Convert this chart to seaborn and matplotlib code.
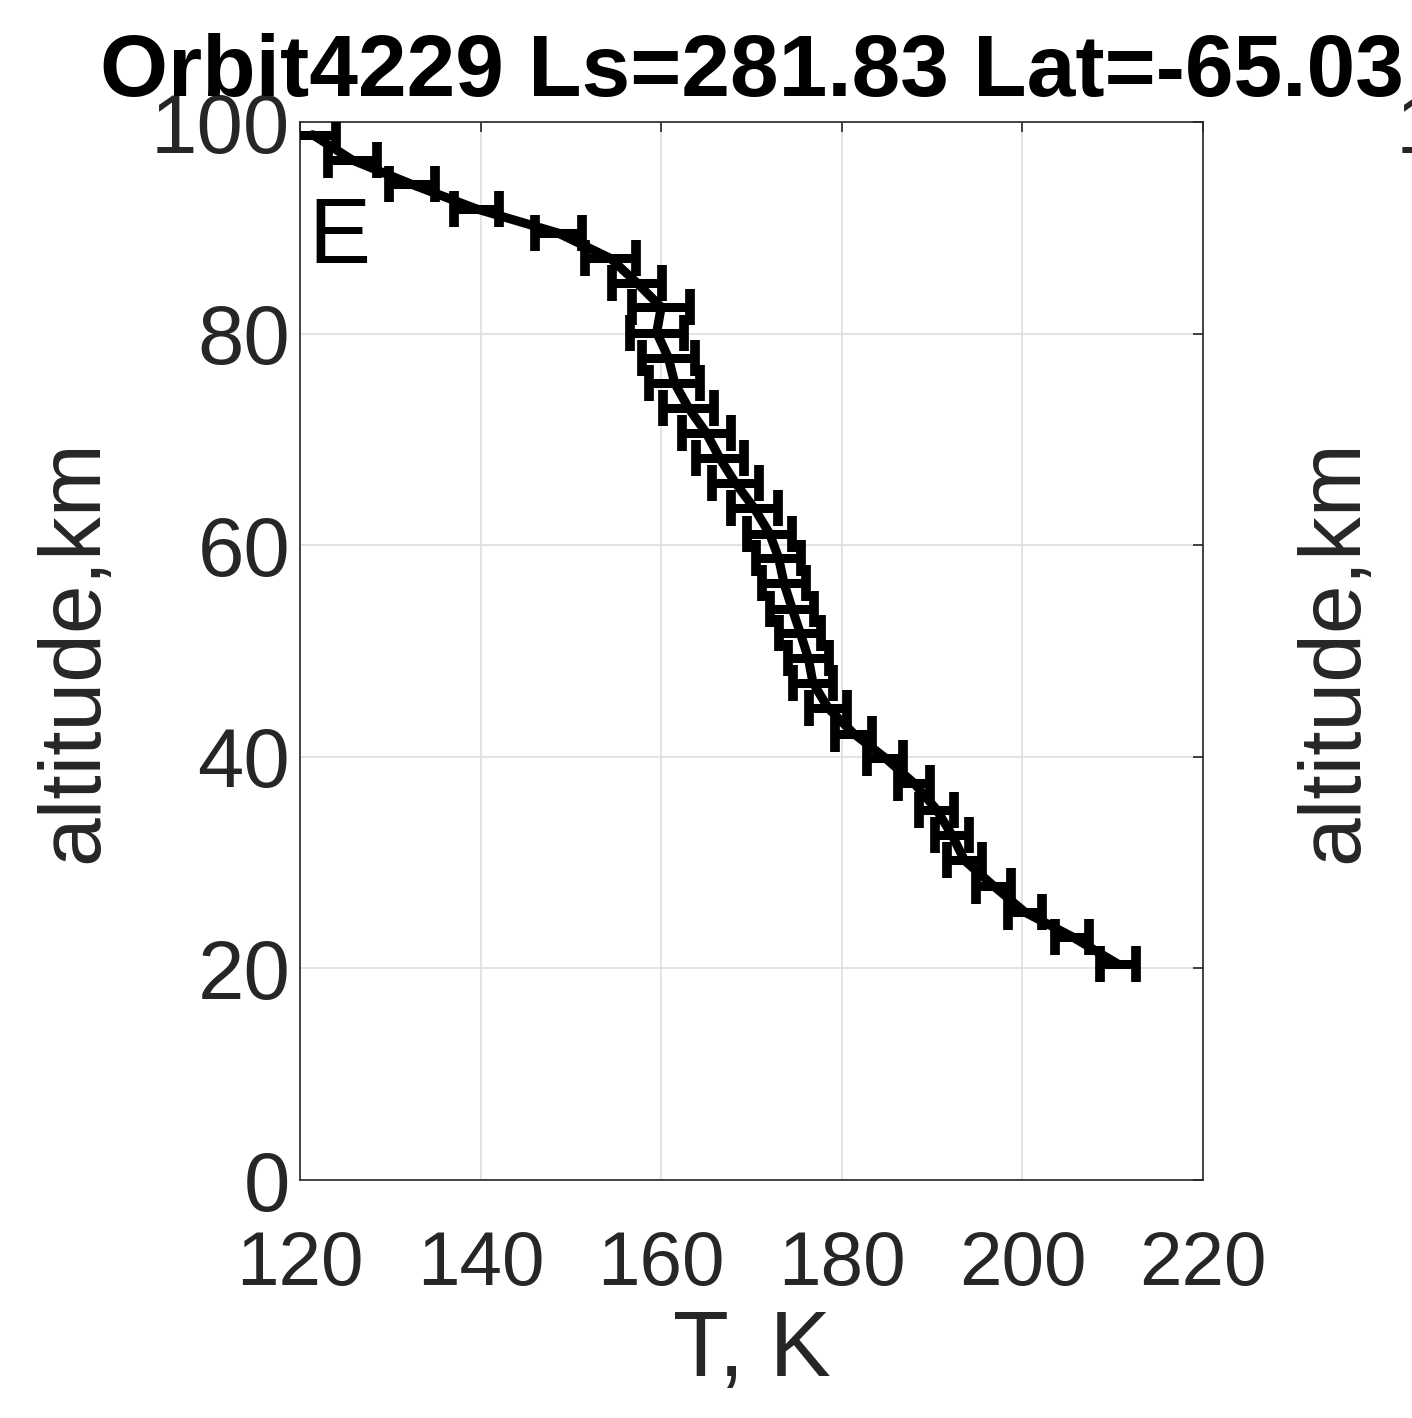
import pandas as pd
import matplotlib
matplotlib.use('Agg')
import matplotlib.pyplot as plt
import seaborn as sns

# --- data (altitude km, temperature K, 1-sigma K) ---
altitude = [20.4, 23.0, 25.3, 27.8, 30.2, 32.6, 35.0, 37.5, 39.9, 42.2,
            44.6, 47.0, 49.3, 51.7, 54.0, 56.4, 58.8, 61.1, 63.5, 65.9,
            68.2, 70.6, 73.0, 75.3, 77.7, 80.1, 82.5, 84.8, 87.1, 89.5,
            91.8, 94.1, 96.4, 98.8]
temperature = [210.6, 205.5, 200.3, 196.8, 193.6, 192.2, 190.5, 188.0, 184.8, 181.3,
               178.5, 176.8, 176.3, 175.4, 174.5, 173.6, 173.0, 172.0, 170.3, 168.2,
               166.5, 165.0, 163.0, 161.5, 160.8, 159.5, 160.0, 157.3, 154.4, 148.6,
               139.5, 132.4, 125.8, 121.4]
t_err = [2.0, 1.9, 1.9, 1.9, 1.9, 1.9, 1.9, 1.8, 2.0, 2.0,
         2.1, 2.2, 2.3, 2.3, 2.4, 2.4, 2.5, 2.5, 2.6, 2.6,
         2.7, 2.7, 2.8, 2.8, 2.9, 3.0, 3.2, 2.8, 2.8, 2.6,
         2.5, 2.5, 2.7, 2.6]

x_ticks = [120, 140, 160, 180, 200, 220]
y_ticks = [0, 20, 40, 60, 80, 100]
title = 'Orbit4229 Ls=281.83 Lat=-65.03'

df = pd.DataFrame({'T': temperature, 'alt': altitude, 'err': t_err})

# --- style: MATLAB-ish look ---
sns.set_style('white')
plt.rcParams['font.family'] = ['Liberation Sans', 'DejaVu Sans']
dark = '#262626'

fig = plt.figure(figsize=(14.12, 14.18), dpi=100)
ax = fig.add_axes([300 / 1412, 1 - 1180 / 1418, 903 / 1412, 1058 / 1418])

ax.errorbar(df['T'], df['alt'], xerr=df['err'], fmt='none', ecolor='black',
            elinewidth=6.5, capsize=13, capthick=7, zorder=3)
sns.lineplot(data=df, x='T', y='alt', orient='y', sort=False, estimator=None,
             color='black', lw=6.5, ax=ax, zorder=3)

ax.set_xlim(120, 220)
ax.set_ylim(0, 100)
ax.set_xticks(x_ticks)
ax.set_yticks(y_ticks)
ax.grid(True, color='#dedede', lw=1.2)
ax.set_axisbelow(True)
ax.tick_params(direction='in', length=7.5, width=1.2, colors=dark,
               top=True, right=True)
ax.tick_params(axis='x', pad=36, labelsize=55)
ax.tick_params(axis='y', pad=7, labelsize=60)
for s in ax.spines.values():
    s.set_color(dark)
    s.set_linewidth(1.2)

ax.set_xlabel('T, K', fontsize=66, color=dark)
ax.set_ylabel('altitude,km', fontsize=63, color=dark)
ax.xaxis.set_label_coords(0.5, -0.122)
ax.yaxis.set_label_coords(-0.205, 0.5)
ax.set_title(title, fontsize=63, fontweight='bold', color='black', pad=19)

ax.text(120.9, 86.7, 'E', fontsize=67, color='black', ha='left', va='baseline')

# neighbouring panel, mostly outside the crop
ax2 = fig.add_axes([1545 / 1412, 1 - 1180 / 1418, 903 / 1412, 1058 / 1418])
ax2.set_ylim(0, 100)
ax2.set_yticks(y_ticks)
ax2.set_xticks([])
ax2.tick_params(direction='in', colors=dark, labelsize=60, pad=7)
ax2.set_ylabel('altitude,km', fontsize=63, color=dark)
ax2.yaxis.set_label_coords(-0.188, 0.5)

fig.savefig('out.png', dpi=100)
